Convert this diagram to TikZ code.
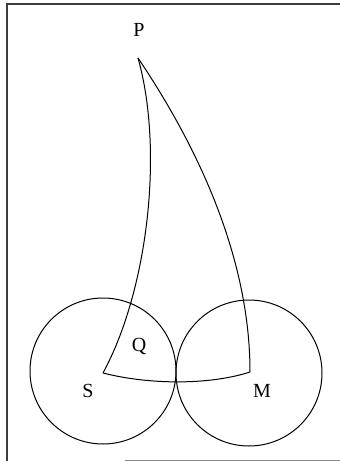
\documentclass[tikz,border=0pt]{standalone}
\usepackage{fontspec}
\setmainfont{Liberation Serif}
\usepackage{xcolor}
\definecolor{framegray}{RGB}{60,60,60}
\usepackage{tikz}
\usetikzlibrary{arrows.meta,positioning,calc}

\begin{document}
\begin{tikzpicture}[
  x=1pt, y=-1pt,
  orbit/.style={draw=black, line width=1pt},
  path/.style={draw=black, line width=1pt, line join=round},
  lbl/.style={inner sep=0pt, font=\fontsize{20}{24}\selectfont}
]
\useasboundingbox (0,0) rectangle (340,461);

%% frame
\draw[framegray, line width=1.3pt] (7,461) -- (7,4) -- (340,4);
\draw[framegray!60, line width=1pt] (125,460) -- (340,460);

%% points
\coordinate (ptP) at (138,58);
\coordinate (ptS) at (103,373);
\coordinate (ptM) at (250,372);
\coordinate (cenS) at (103,371);
\coordinate (cenM) at (249,373);

%% two circles
\draw[orbit] (cenS) circle[radius=73];
\draw[orbit] (cenM) circle[radius=73];

%% curves
\draw[path] (ptP) .. controls (164,150) and (148,290) .. (ptS);
\draw[path] (ptP) .. controls (200,150) and (250,260) .. (ptM);
\draw[path] (ptS) .. controls (150,385) and (210,385) .. (ptM);

%% labels
\node[lbl] (labP) at (139,30) {P};
\node[lbl] (labQ) at (139,346) {Q};
\node[lbl] (labS) at (88,391) {S};
\node[lbl] (labM) at (262,391) {M};

\end{tikzpicture}
\end{document}
